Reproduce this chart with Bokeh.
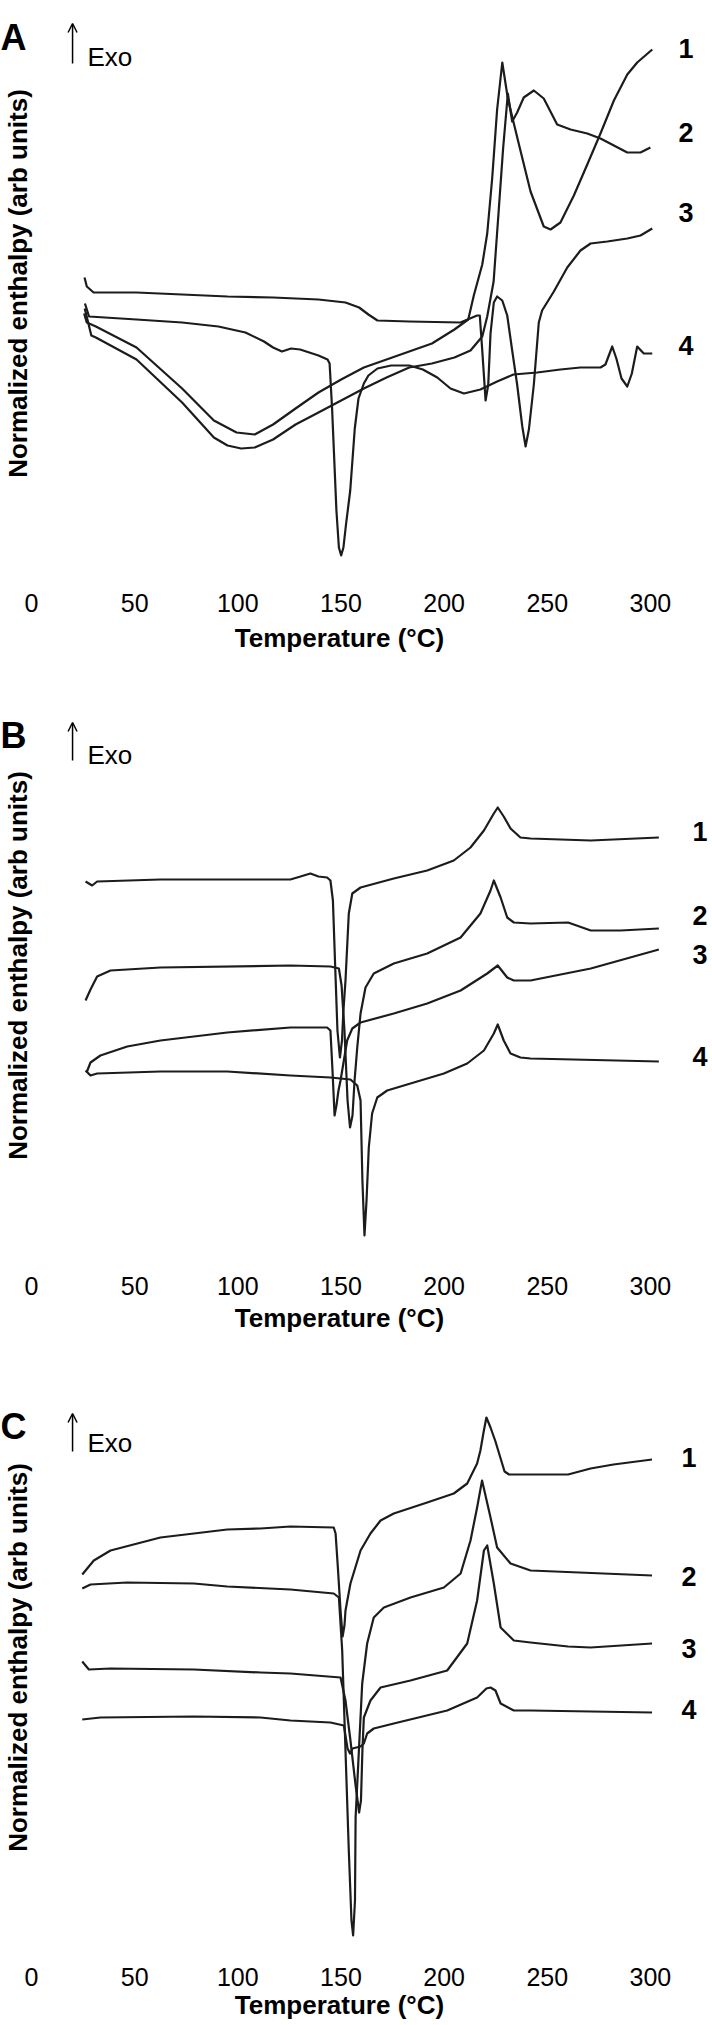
import math
from bokeh.plotting import figure
from bokeh.models import Range1d, FixedTicker, Label, Arrow, OpenHead, LinearAxis
from bokeh.layouts import column
from bokeh.embed import file_html
from bokeh.resources import INLINE

# ---------------- data (temperature in degC, normalized enthalpy in arb units) -------------
temperature_ticks = [0, 50, 100, 150, 200, 250, 300]
curve_names = ["1", "2", "3", "4"]
panel_letters = ["A", "B", "C"]
x_title = "Temperature (°C)"
y_title = "Normalized enthalpy (arb units)"
exo_text = "Exo"

a1 = [(25.5, 27.0), (26.8, 26.1), (31.2, 25.7), (50.9, 23.6), (73.0, 19.5), (88.4, 16.3), (99.4, 15.1),
      (108.2, 14.9), (117.1, 15.9), (128.0, 17.5), (139.1, 19.1), (150.1, 20.4), (161.1, 21.6), (172.1, 22.4),
      (183.1, 23.2), (194.1, 24.0), (205.0, 25.4), (211.7, 26.4), (214.4, 28.8), (218.5, 31.9), (220.9, 35.0),
      (223.3, 40.5), (225.7, 47.4), (228.2, 52.1), (230.9, 48.5), (233.8, 46.0), (237.0, 43.3), (241.9, 39.2),
      (248.3, 35.7), (251.6, 35.4), (256.4, 36.1), (262.9, 38.8), (269.4, 41.9), (275.8, 45.0), (282.3, 48.3),
      (288.8, 50.9), (293.6, 52.1), (300.9, 53.4)]
a2 = [(25.8, 27.5), (29.0, 24.8), (31.2, 24.6), (50.9, 22.4), (73.0, 18.1), (88.4, 14.6), (95.0, 13.8),
      (101.6, 13.5), (108.2, 13.6), (117.1, 14.4), (128.0, 15.9), (139.1, 17.1), (150.1, 18.3), (161.1, 19.5),
      (172.1, 20.6), (183.1, 21.6), (194.1, 22.0), (205.0, 22.6), (212.8, 23.3), (218.5, 24.7), (220.9, 26.7),
      (224.0, 30.2), (226.4, 37.1), (228.6, 43.5), (230.9, 49.0), (232.0, 47.5), (233.0, 46.2), (235.4, 47.1),
      (238.6, 48.6), (243.5, 49.3), (248.3, 48.5), (254.8, 45.9), (261.3, 45.4), (269.4, 45.0), (275.8, 44.5),
      (282.3, 43.8), (288.8, 43.1), (295.2, 43.1), (300.0, 43.6)]
a3 = [(25.7, 30.6), (26.8, 29.7), (30.1, 29.1), (50.9, 29.1), (73.0, 28.9), (95.0, 28.7), (117.1, 28.6),
      (139.1, 28.4), (152.2, 28.1), (158.8, 27.6), (163.3, 26.9), (167.7, 26.3), (183.1, 26.2), (207.9, 26.1),
      (216.0, 26.8), (217.3, 26.8), (218.5, 23.3), (220.1, 18.3), (221.4, 19.9), (222.5, 25.0), (224.1, 28.1),
      (225.7, 28.7), (228.2, 28.3), (230.6, 26.8), (233.0, 23.3), (235.4, 19.9), (237.9, 15.7), (239.5, 13.7),
      (241.1, 15.4), (243.5, 19.9), (245.9, 26.1), (247.5, 27.3), (253.2, 29.2), (259.7, 31.6), (266.1, 33.3),
      (271.0, 34.0), (279.1, 34.2), (288.8, 34.5), (295.2, 34.8), (300.9, 35.5)]
a4 = [(25.9, 28.0), (27.9, 26.7), (50.9, 26.4), (73.0, 26.1), (90.6, 25.7), (103.7, 25.1), (112.7, 24.2),
      (117.1, 23.6), (121.4, 23.2), (125.8, 23.5), (130.2, 23.4), (139.1, 22.8), (143.5, 22.4), (144.5, 22.0),
      (145.7, 17.5), (147.8, 7.3), (149.0, 3.6), (150.1, 2.8), (151.2, 3.6), (152.5, 6.0), (154.5, 9.3),
      (156.7, 15.5), (158.5, 18.5), (161.1, 20.0), (163.3, 20.8), (167.7, 21.5), (174.3, 21.8), (183.1, 21.8),
      (189.7, 21.4), (196.7, 20.6), (203.1, 19.5), (209.6, 19.0), (217.6, 19.4), (225.7, 20.2), (233.6, 20.9),
      (245.1, 21.1), (256.4, 21.4), (266.1, 21.6), (275.8, 21.6), (278.2, 21.9), (281.5, 23.7), (283.5, 22.5),
      (286.0, 20.5), (288.8, 19.7), (291.0, 21.0), (293.6, 23.7), (296.8, 23.0), (300.9, 23.0)]

b1 = [(26.2, 38.5), (29.4, 38.1), (31.8, 38.5), (62.5, 38.7), (125.5, 38.7), (130.4, 39.0), (135.2, 39.3),
      (139.1, 39.0), (143.3, 38.9), (144.9, 38.6), (146.1, 36.6), (147.1, 30.6), (148.3, 23.6), (149.5, 20.9),
      (150.5, 22.6), (151.2, 25.6), (152.2, 28.6), (153.8, 35.3), (155.5, 37.3), (159.5, 37.9), (175.6, 38.8),
      (191.8, 39.6), (204.7, 40.6), (212.8, 41.9), (219.3, 43.6), (224.1, 45.3), (226.0, 45.9), (228.9, 45.0),
      (232.2, 43.8), (237.0, 42.9), (241.9, 42.8), (271.1, 42.6), (304.1, 42.9)]
b2 = [(26.2, 26.6), (28.6, 27.7), (31.8, 29.0), (38.3, 29.6), (62.5, 29.9), (125.5, 30.1), (144.9, 30.0),
      (149.0, 29.8), (150.3, 28.1), (151.7, 23.6), (153.2, 16.6), (154.4, 13.9), (155.6, 15.1), (156.6, 18.6),
      (157.9, 21.9), (159.5, 25.3), (161.9, 27.9), (165.9, 29.3), (175.6, 30.3), (191.8, 31.3), (208.0, 32.9),
      (217.6, 35.3), (222.5, 37.6), (224.1, 38.6), (227.4, 36.9), (230.6, 34.9), (233.8, 34.4), (241.9, 34.3),
      (260.1, 34.4), (271.1, 33.6), (285.5, 33.6), (304.1, 33.8)]
b3 = [(26.7, 19.4), (28.6, 20.4), (33.4, 21.1), (46.4, 22.0), (62.5, 22.6), (94.9, 23.4), (125.5, 23.9),
      (143.3, 23.9), (144.9, 23.6), (145.9, 19.6), (146.9, 15.1), (147.8, 16.1), (148.8, 17.6), (149.8, 18.6),
      (153.0, 22.6), (155.5, 23.8), (159.5, 24.4), (175.6, 25.3), (191.8, 26.3), (208.0, 27.6), (220.9, 29.3),
      (226.0, 30.1), (230.6, 28.9), (233.8, 28.6), (241.9, 28.6), (271.1, 29.8), (304.1, 31.7)]
b4 = [(26.2, 19.6), (28.6, 19.1), (31.8, 19.3), (62.5, 19.5), (94.9, 19.5), (125.5, 19.1), (144.9, 18.9),
      (154.6, 18.7), (157.9, 18.1), (159.5, 16.6), (160.4, 8.6), (161.4, 3.1), (162.4, 6.6), (163.5, 11.9),
      (165.1, 15.3), (167.6, 16.9), (172.4, 17.6), (183.7, 18.3), (199.9, 19.3), (211.2, 20.3), (219.3, 21.6),
      (224.1, 23.3), (226.0, 24.2), (228.9, 22.6), (232.2, 21.3), (237.0, 20.9), (241.9, 20.8), (304.1, 20.5)]

c1 = [(24.6, 38.1), (30.2, 39.5), (38.3, 40.5), (62.5, 41.8), (94.9, 42.6), (111.0, 42.7), (125.5, 42.9),
      (146.5, 42.8), (147.4, 42.2), (148.5, 38.8), (149.8, 34.5), (150.8, 31.9), (151.7, 33.0), (152.2, 34.5),
      (154.6, 37.2), (159.5, 40.5), (164.3, 42.2), (169.2, 43.5), (175.6, 44.2), (191.8, 45.3), (204.7, 46.2),
      (211.2, 47.2), (216.0, 49.2), (217.6, 50.5), (219.1, 52.3), (220.5, 53.8), (222.5, 52.8), (224.9, 51.4),
      (229.3, 48.4), (231.5, 48.1), (241.9, 48.1), (260.1, 48.1), (271.0, 48.7), (282.1, 49.1), (300.8, 49.6)]
c2 = [(24.6, 36.7), (28.6, 37.1), (46.4, 37.3), (78.7, 37.2), (94.9, 36.9), (125.5, 36.6), (146.5, 36.2),
      (149.0, 35.8), (150.6, 30.5), (152.2, 20.5), (153.8, 10.5), (155.1, 3.5), (155.9, 2.0), (156.8, 5.5),
      (157.1, 13.8), (158.7, 20.5), (160.3, 27.2), (162.7, 31.2), (165.9, 33.8), (170.8, 34.8), (183.7, 35.8),
      (199.9, 36.8), (208.0, 38.2), (212.8, 41.5), (216.0, 44.8), (218.4, 47.5), (222.5, 43.8), (225.7, 40.8),
      (232.2, 39.2), (241.9, 38.5), (300.8, 38.0)]
c3 = [(24.6, 29.4), (27.8, 28.6), (38.3, 28.7), (78.7, 28.6), (111.0, 28.3), (125.5, 28.2), (149.8, 27.8),
      (152.2, 25.5), (154.6, 21.5), (157.1, 17.0), (158.8, 14.3), (159.7, 15.5), (160.4, 20.5), (161.1, 23.8),
      (164.3, 25.5), (169.2, 26.8), (183.7, 27.5), (201.5, 28.5), (211.2, 31.2), (216.0, 35.5), (219.3, 40.5),
      (220.9, 41.0), (224.1, 37.2), (227.4, 32.8), (233.8, 31.5), (241.9, 31.3), (260.1, 30.9), (271.0, 30.8),
      (300.8, 31.2)]
c4 = [(24.6, 23.6), (33.4, 23.8), (78.7, 23.9), (111.0, 23.8), (125.5, 23.5), (144.9, 23.3), (151.4, 23.0),
      (153.2, 20.7), (154.4, 20.2), (155.6, 20.7), (157.5, 20.8), (159.5, 20.9), (161.1, 21.2), (162.7, 22.2),
      (165.9, 22.7), (175.6, 23.2), (201.5, 24.5), (216.0, 25.8), (220.5, 26.7), (222.5, 26.8), (224.9, 26.5),
      (227.4, 25.2), (233.8, 24.5), (241.9, 24.5), (300.8, 24.3)]

FONT = "Liberation Sans"
LINE_COLOR = "#1c1c1c"
WIDTH = 712
BORDER_RIGHT = 34
X_START, X_END = -15.03, 313.62

panels = [
    dict(letter=panel_letters[0], curves=[a1, a2, a3, a4], height=658, border_bottom=71,
         y_start=-0.4, label_std=6, title_std=8, letter_y=54.6, arrow=(52.0, 56.0), exo_y=52.7,
         num_ticks=[53.5, 45.1, 37.1, 23.8], num_std=0, ylab_y=30.0),
    dict(letter=panel_letters[1], curves=[b1, b2, b3, b4], height=682, border_bottom=70,
         y_start=-0.4, label_std=6, title_std=5, letter_y=53.1, arrow=(50.6, 54.4), exo_y=51.2,
         num_ticks=[43.5, 35.1, 31.2, 21.0], num_std=14, ylab_y=30.1),
    dict(letter=panel_letters[2], curves=[c1, c2, c3, c4], height=685, border_bottom=64,
         y_start=-0.6, label_std=6, title_std=1, letter_y=52.9, arrow=(50.4, 54.2), exo_y=51.3,
         num_ticks=[49.8, 37.9, 30.7, 24.6], num_std=3, ylab_y=29.8),
]


def text(p, x, y, s, size, bold=False, align="left", angle=0.0):
    p.add_layout(Label(x=x, y=y, text=s, text_font=FONT, text_font_size=f"{size}px",
                       text_font_style="bold" if bold else "normal", text_color="black",
                       text_align=align, text_baseline="middle", angle=angle))


figs = []
for spec in panels:
    frame_h = spec["height"] - spec["border_bottom"]
    p = figure(width=WIDTH, height=spec["height"], output_backend="svg", toolbar_location=None,
               title_location=None, y_axis_location=None,
               x_range=Range1d(X_START, X_END),
               y_range=Range1d(spec["y_start"], spec["y_start"] + frame_h / 10.0),
               min_border_left=0, min_border_right=BORDER_RIGHT, min_border_top=0,
               min_border_bottom=spec["border_bottom"])
    p.outline_line_color = None
    p.grid.visible = False
    p.background_fill_color = "white"
    p.border_fill_color = "white"

    ax = p.xaxis[0]
    ax.ticker = FixedTicker(ticks=temperature_ticks)
    ax.axis_line_color = None
    ax.major_tick_line_color = None
    ax.minor_tick_line_color = None
    ax.major_tick_out = 0
    ax.major_tick_in = 0
    ax.major_label_text_font = FONT
    ax.major_label_text_font_size = "25px"
    ax.major_label_text_color = "black"
    ax.major_label_standoff = spec["label_std"]
    ax.axis_label = x_title
    ax.axis_label_text_font = FONT
    ax.axis_label_text_font_size = "26px"
    ax.axis_label_text_font_style = "bold"
    ax.axis_label_text_color = "black"
    ax.axis_label_standoff = spec["title_std"]

    # curve numbers drawn as the labels of an axis on the right
    num_axis = LinearAxis(ticker=FixedTicker(ticks=spec["num_ticks"]),
                          major_label_overrides={t: n for t, n in zip(spec["num_ticks"], curve_names)},
                          axis_line_color=None, major_tick_line_color=None, minor_tick_line_color=None,
                          major_tick_out=0, major_tick_in=0, major_label_standoff=spec["num_std"],
                          major_label_text_font=FONT, major_label_text_font_size="27px",
                          major_label_text_font_style="bold", major_label_text_color="black")
    p.add_layout(num_axis, "right")

    for curve in spec["curves"]:
        t = [pt[0] for pt in curve]
        v = [pt[1] for pt in curve]
        p.line(t, v, line_color=LINE_COLOR, line_width=2.2, line_join="round")

    text(p, -15.0, spec["letter_y"], spec["letter"], 36, bold=True)
    y0, y1 = spec["arrow"]
    p.add_layout(Arrow(end=OpenHead(size=9, line_width=1.5, line_color="black"),
                       x_start=19.9, y_start=y0, x_end=19.9, y_end=y1,
                       line_width=1.5, line_color="black"))
    text(p, 27.1, spec["exo_y"], exo_text, 26)
    text(p, -6.5, spec["ylab_y"], y_title, 26, bold=True, align="center", angle=math.pi / 2)
    figs.append(p)

layout = column(*figs, spacing=0)
open("out.html", "w").write(file_html(layout, INLINE))
